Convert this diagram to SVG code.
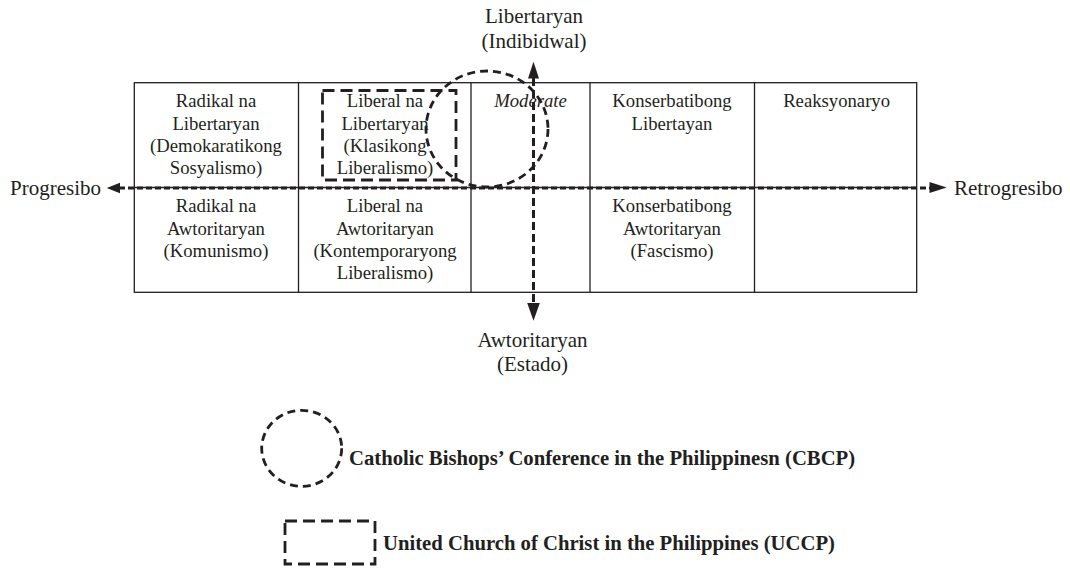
<svg xmlns="http://www.w3.org/2000/svg" width="1070" height="568" viewBox="0 0 1070 568">
<style>
text{font-family:"Liberation Serif","Times New Roman",serif;fill:#231f20}
.cell{font-size:18.7px;text-anchor:middle}
.ax{font-size:21px}
.axc{font-size:21px;text-anchor:middle}
.leg{font-size:20.7px;font-weight:bold}
.grid{fill:none;stroke:#231f20;stroke-width:1.3}
.axis{stroke:#231f20;stroke-width:3;fill:none}
.head{fill:#231f20}
.dc{fill:none;stroke:#231f20;stroke-width:2.8;stroke-dasharray:8 5}
.dr{fill:none;stroke:#231f20;stroke-width:2.8;stroke-dasharray:12 6}
</style>
<rect width="1070" height="568" fill="#fff"/>
<g id="table">
<rect class="grid" x="134.3" y="82.7" width="782.4" height="209.6"/>
<line class="grid" x1="134.3" y1="187.5" x2="916.7" y2="187.5"/>
<line class="grid" x1="298.5" y1="82.7" x2="298.5" y2="292.3"/>
<line class="grid" x1="471" y1="82.7" x2="471" y2="292.3"/>
<line class="grid" x1="590" y1="82.7" x2="590" y2="292.3"/>
<line class="grid" x1="754.5" y1="82.7" x2="754.5" y2="292.3"/>
</g>
<g id="cell-radikal-libertaryan"><text class="cell" x="216" y="107.3">Radikal na<tspan x="216" dy="22.3">Libertaryan</tspan><tspan x="216" dy="22.3">(Demokaratikong</tspan><tspan x="216" dy="22.3">Sosyalismo)</tspan></text></g>
<g id="cell-liberal-libertaryan"><text class="cell" x="385" y="107.3">Liberal na<tspan x="385" dy="22.3">Libertaryan</tspan><tspan x="385" dy="22.3">(Klasikong</tspan><tspan x="385" dy="22.3">Liberalismo)</tspan></text></g>
<g id="cell-moderate"><text class="cell" x="530.5" y="107.3" font-style="italic">Moderate</text></g>
<g id="cell-konserbatibong-libertayan"><text class="cell" x="672" y="107.3">Konserbatibong<tspan x="672" dy="22.3">Libertayan</tspan></text></g>
<g id="cell-reaksyonaryo"><text class="cell" x="836.6" y="107.3">Reaksyonaryo</text></g>
<g id="cell-radikal-awtoritaryan"><text class="cell" x="216" y="212.3">Radikal na<tspan x="216" dy="22.3">Awtoritaryan</tspan><tspan x="216" dy="22.3">(Komunismo)</tspan></text></g>
<g id="cell-liberal-awtoritaryan"><text class="cell" x="385" y="212.3">Liberal na<tspan x="385" dy="22.3">Awtoritaryan</tspan><tspan x="385" dy="22.3">(Kontemporaryong</tspan><tspan x="385" dy="22.3">Liberalismo)</tspan></text></g>
<g id="cell-konserbatibong-awtoritaryan"><text class="cell" x="672" y="212.3">Konserbatibong<tspan x="672" dy="22.3">Awtoritaryan</tspan><tspan x="672" dy="22.3">(Fascismo)</tspan></text></g>
<g id="label-libertaryan"><text class="axc" x="534" y="23">Libertaryan<tspan x="534" dy="24.7">(Indibidwal)</tspan></text></g>
<g id="label-awtoritaryan"><text class="axc" x="532.5" y="346.5">Awtoritaryan<tspan x="532.5" dy="24.5">(Estado)</tspan></text></g>
<g id="label-progresibo"><text class="ax" x="10" y="195">Progresibo</text></g>
<g id="label-retrogresibo"><text class="ax" x="954" y="195">Retrogresibo</text></g>
<g id="connectors">
<line class="axis" x1="119" y1="188" x2="930" y2="188" stroke-dasharray="6 3"/>
<polygon class="head" points="106.7,188 120,182.7 120,193.3"/>
<polygon class="head" points="946.7,187.5 929.5,182 929.5,193"/>
<line class="axis" x1="533.5" y1="78" x2="533.5" y2="303.5" stroke-dasharray="8 4"/>
<polygon class="head" points="533.5,61.7 528,78.5 539,78.5"/>
<polygon class="head" points="533.5,320.7 527.2,303 539.8,303"/>
</g>
<g id="region-cbcp"><ellipse class="dc" cx="487" cy="129" rx="61" ry="58"/></g>
<g id="region-uccp"><rect class="dr" x="322.5" y="90.5" width="133.5" height="89.5"/></g>
<g id="legend-cbcp">
<ellipse class="dc" cx="301.7" cy="448.3" rx="40" ry="38" stroke-width="2.5" stroke-dasharray="7 5"/>
<text class="leg" x="349" y="465">Catholic Bishops’ Conference in the Philippinesn (CBCP)</text>
</g>
<g id="legend-uccp">
<rect class="dr" x="285" y="521" width="90" height="43" stroke-width="2.5" stroke-dasharray="10 10"/>
<text class="leg" x="383" y="550">United Church of Christ in the Philippines (UCCP)</text>
</g>
</svg>
